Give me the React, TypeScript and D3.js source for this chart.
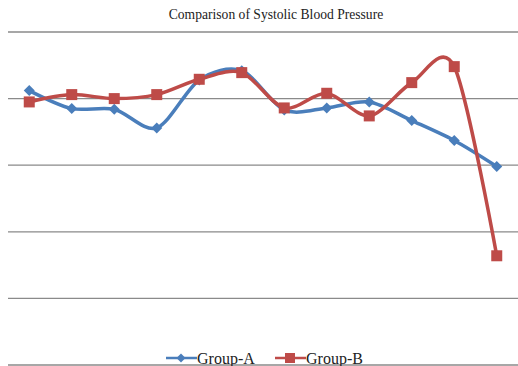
import React from "react";
import * as d3 from "d3";

const categories = ["1", "2", "3", "4", "5", "6", "7", "8", "9", "10", "11", "12"];
const groupA = [141.2, 138.5, 138.4, 135.6, 142.8, 144.2, 138.3, 138.6, 139.5, 136.7, 133.7, 129.8];
const groupB = [139.5, 140.6, 140.0, 140.6, 142.9, 143.9, 138.6, 140.8, 137.4, 142.4, 144.8, 116.4];
const gridValues = [100, 110, 120, 130, 140, 150];

const W = 518;
const H = 366;

export default function App() {
  const x = d3.scaleBand<string>().domain(categories).range([8, 518]);
  const cx = (c: string) => (x(c) ?? 0) + x.bandwidth() / 2;
  const y = d3.scaleLinear().domain([100, 150]).range([365, 32]);

  const line = d3
    .line<number>()
    .x((_, i) => cx(categories[i]))
    .y((v) => y(v))
    .curve(d3.curveCardinal.tension(0.1));

  const blue = "#4a7ebb";
  const red = "#be4b48";

  const diamond = (px: number, py: number, r: number) =>
    `M${px},${py - r}L${px + r},${py}L${px},${py + r}L${px - r},${py}Z`;

  return (
    <svg
      width={W}
      height={H}
      style={{ position: "absolute", left: 0, top: 0, background: "#fff" }}
    >
      <text
        x={276}
        y={19}
        textAnchor="middle"
        fontFamily="Liberation Serif"
        fontSize={13.6}
        fill="#222"
      >
        Comparison of Systolic Blood Pressure
      </text>

      {gridValues.map((g) => (
        <line
          key={g}
          x1={8}
          x2={518}
          y1={y(g)}
          y2={y(g)}
          stroke="#8a8a8a"
          strokeWidth={1.3}
        />
      ))}

      <path d={line(groupA) ?? ""} fill="none" stroke={blue} strokeWidth={3.5} strokeLinejoin="round" />
      {groupA.map((v, i) => (
        <path key={"a" + i} d={diamond(cx(categories[i]), y(v), 5.5)} fill={blue} />
      ))}

      <path d={line(groupB) ?? ""} fill="none" stroke={red} strokeWidth={3.5} strokeLinejoin="round" />
      {groupB.map((v, i) => (
        <rect
          key={"b" + i}
          x={cx(categories[i]) - 5.5}
          y={y(v) - 5.5}
          width={11}
          height={11}
          fill={red}
        />
      ))}

      <g fontFamily="Liberation Serif" fontSize={16} fill="#222">
        <line x1={166} x2={197} y1={358} y2={358} stroke={blue} strokeWidth={2.5} />
        <path d={diamond(181, 358, 4.5)} fill={blue} />
        <text x={197} y={364}>Group-A</text>
        <line x1={275} x2={306} y1={358} y2={358} stroke={red} strokeWidth={2.5} />
        <rect x={285} y={353} width={10} height={10} fill={red} />
        <text x={306} y={364}>Group-B</text>
      </g>
    </svg>
  );
}
